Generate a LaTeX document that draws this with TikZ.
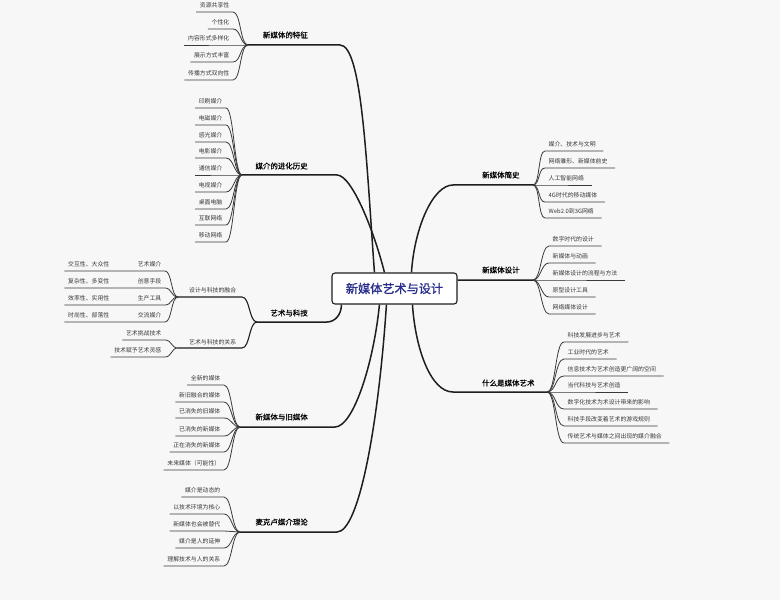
\documentclass[tikz,border=0pt]{standalone}
\usepackage{fontspec}
\newfontfamily\cjk{Noto Sans CJK SC}
\newfontfamily\cjkb[FakeBold=0.6]{Noto Sans CJK SC}
\newfontfamily\cjkc[FakeBold=1.3]{Noto Sans CJK SC}
\definecolor{bgc}{HTML}{F7F7F7}
\definecolor{linec}{HTML}{1E1E1E}
\definecolor{subc}{HTML}{3A3A3A}
\definecolor{txtc}{HTML}{383838}
\definecolor{ctrc}{HTML}{2A2F8C}
\begin{document}
\begin{tikzpicture}[x=1bp,y=-1bp,
  leaf/.style={font=\cjk\fontsize{5.9}{7}\selectfont, text=txtc, inner xsep=3.5bp, inner ysep=3.4bp, text height=5bp, text depth=0.5bp},
  leafL/.style={leaf, anchor=south east},
  leafR/.style={leaf, anchor=south west},
  sublbl/.style={font=\cjk\fontsize{5.9}{7}\selectfont, text=txtc, inner sep=0pt},
  branchlbl/.style={font=\cjkb\fontsize{7.5}{9}\selectfont, text=black, inner sep=0pt},
  twig/.style={draw=subc, line width=0.8bp},
  bough/.style={draw=linec, line width=1.1bp},
  limb/.style={draw=linec, line width=1.5bp}]
\useasboundingbox (0,0) rectangle (780,600);
\fill[bgc] (0,0) rectangle (780,600);

% centre
\node[draw=linec, line width=1.1bp, rounded corners=3bp, fill=white, minimum width=125bp, minimum height=31bp, inner sep=0pt, font=\cjkc\fontsize{12.2}{14}\selectfont, text=ctrc] (hub) at (394.5,288.5) {新媒体艺术与设计};

% junctions and branch ends
\coordinate (J1) at (248,45);  \coordinate (E1) at (340,45);
\coordinate (J2) at (242,175); \coordinate (E2) at (337,175);
\coordinate (JC) at (257,322); \coordinate (E5) at (327,322);
\coordinate (JD) at (240,427); \coordinate (E6) at (335,427);
\coordinate (JE) at (240,532); \coordinate (E7) at (337,532);
\coordinate (JF) at (533,185); \coordinate (E3) at (453,185);
\coordinate (JG) at (533,280);
\coordinate (JH) at (547,392); \coordinate (E4) at (453,392);
\coordinate (JC1) at (178,297); \coordinate (S1) at (242,297);
\coordinate (JC2) at (178,348); \coordinate (S2) at (242,348);

% main limbs
\draw[limb] ([xshift=43bp]hub.north west) .. controls +(-8,-110) and +(22,0) .. (E1) -- (J1);
\draw[limb] ([xshift=53bp]hub.north west) .. controls +(-10,-40) and +(15,0) .. (E2) -- (J2);
\draw[limb] ([xshift=80bp]hub.north west) .. controls +(3,-45) and +(-20,0) .. (E3) -- (JF);
\draw[limb] ([xshift=81bp]hub.south west) .. controls +(3,45) and +(-22,0) .. (E4) -- (JH);
\draw[limb] ([xshift=10bp]hub.south west) .. controls +(0,10) and +(8,0) .. (E5) -- (JC);
\draw[limb] ([xshift=48bp]hub.south west) .. controls +(-6,60) and +(18,0) .. (E6) -- (JD);
\draw[limb] ([xshift=55bp]hub.south west) .. controls +(-8,120) and +(22,0) .. (E7) -- (JE);
\draw[limb] ([yshift=8.5bp]hub.east) -- (JG);

% branch labels
\node[branchlbl, anchor=east] (L1) at (308,35) {新媒体的特征};
\node[branchlbl, anchor=east] (L2) at (308,166) {媒介的进化历史};
\node[branchlbl, anchor=east] (L5) at (308,313) {艺术与科技};
\node[branchlbl, anchor=east] (L6) at (308,417) {新媒体与旧媒体};
\node[branchlbl, anchor=east] (L7) at (308,522) {麦克卢媒介理论};
\node[branchlbl, anchor=west] (L3) at (482,175) {新媒体简史};
\node[branchlbl, anchor=west] (LG) at (482,270) {新媒体设计};
\node[branchlbl, anchor=west] (L4) at (482,383) {什么是媒体艺术};

% art & tech sub-branches
\draw[bough] (JC) .. controls +(-8,0) and +(8,0) .. (S1) -- (JC1);
\draw[bough] (JC) .. controls +(-8,0) and +(8,0) .. (S2) -- (JC2);
\node[sublbl, anchor=west] (SL1) at (189,290) {设计与科技的融合};
\node[sublbl, anchor=west] (SL2) at (189,342) {艺术与科技的关系};

% group A
\foreach \n/\y/\t in {a1/12/资源共享性, a2/29/个性化, a3/45/内容形式多样化, a4/62/展示方式丰富, a5/80/传播方式双向性}{
  \node[leafL] (\n) at (233,\y) {\t};
  \draw[twig] (J1) .. controls +(-8,0) and +(8,0) .. (\n.south east) -- (\n.south west);
}
% group B
\foreach \n/\y/\t in {b1/108/印刷媒介, b2/125/电磁媒介, b3/142/感光媒介, b4/158/电影媒介, b5/175/通信媒介, b6/192/电视媒介, b7/209/桌面电脑, b8/225/互联网络, b9/242/移动网络}{
  \node[leafL] (\n) at (226,\y) {\t};
  \draw[twig] (J2) .. controls +(-8,0) and +(8,0) .. (\n.south east) -- (\n.south west);
}
% group C1
\foreach \n/\y/\t/\g in {c1/271/艺术媒介/交互性、大众性, c2/288/创意手段/复杂性、多变性, c3/305/生产工具/效率性、实用性, c4/322/交流媒介/时尚性、部落性}{
  \node[leafL] (\n) at (165,\y) {\t};
  \node[leafL] (\n-g) at (113,\y) {\g};
  \draw[twig] (JC1) .. controls +(-7,0) and +(7,0) .. (\n.south east) -- (\n.south west) -- (\n-g.south east) -- (\n-g.south west);
}
% group C2
\foreach \n/\y/\t in {d1/340/艺术挑战技术, d2/357/技术赋予艺术灵感}{
  \node[leafL] (\n) at (165,\y) {\t};
  \draw[twig] (JC2) .. controls +(-7,0) and +(7,0) .. (\n.south east) -- (\n.south west);
}
% group D
\foreach \n/\y/\t in {e1/385/全新的媒体, e2/402/新旧融合的媒体, e3/418/已消失的旧媒体, e4/436/已消失的新媒体, e5/452/正在消失的新媒体, e6/470/未来媒体（可能性）}{
  \node[leafL] (\n) at (224,\y) {\t};
  \draw[twig] (JD) .. controls +(-8,0) and +(8,0) .. (\n.south east) -- (\n.south west);
}
% group E
\foreach \n/\y/\t in {f1/497/媒介是动态的, f2/514/以技术环境为核心, f3/531/新媒体也会被替代, f4/548/媒介是人的延伸, f5/566/理解技术与人的关系}{
  \node[leafL] (\n) at (224,\y) {\t};
  \draw[twig] (JE) .. controls +(-8,0) and +(8,0) .. (\n.south east) -- (\n.south west);
}
% group F
\foreach \n/\y/\t in {g1/151/媒介、技术与文明, g2/168/网络雏形、新媒体前史, g3/185/人工智能网络, g4/202/4G时代的移动媒体, g5/218/Web2.0到3G网络}{
  \node[leafR] (\n) at (545,\y) {\t};
  \draw[twig] (JF) .. controls +(7,0) and +(-7,0) .. (\n.south west) -- ([xshift=4bp]\n.south east);
}
% group G
\foreach \n/\y/\t in {h1/246/数字时代的设计, h2/263/新媒体与动画, h3/280/新媒体设计的流程与方法, h4/297/原型设计工具, h5/314/网络媒体设计}{
  \node[leafR] (\n) at (549,\y) {\t};
  \draw[twig] (JG) .. controls +(8,0) and +(-8,0) .. (\n.south west) -- ([xshift=4bp]\n.south east);
}
% group H
\foreach \n/\y/\t in {k1/342/科技发展进步与艺术, k2/359/工业时代的艺术, k3/376/信息技术为艺术创造更广阔的空间, k4/392/当代科技与艺术创造, k5/409/数字化技术为术设计带来的影响, k6/426/科技手段改变着艺术的游戏规则, k7/443/传统艺术与媒体之间出现的媒介融合}{
  \node[leafR] (\n) at (564,\y) {\t};
  \draw[twig] (JH) .. controls +(9,0) and +(-9,0) .. (\n.south west) -- ([xshift=4bp]\n.south east);
}
\end{tikzpicture}
\end{document}
